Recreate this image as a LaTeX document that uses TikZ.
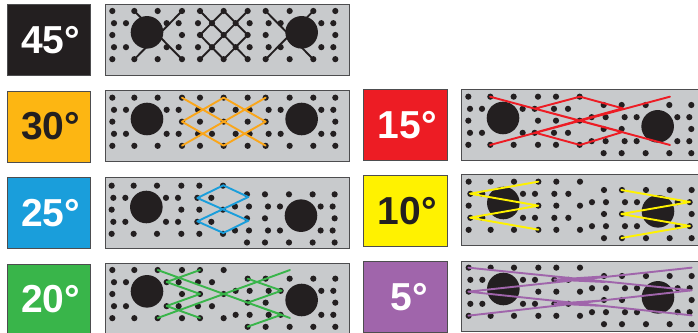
\documentclass[tikz,border=0pt]{standalone}
\usepackage{fontspec}
\setmainfont{Liberation Sans}
\definecolor{plategray}{HTML}{C8CACC}
\definecolor{ink}{HTML}{231F20}
\definecolor{edgeg}{HTML}{4D4D4F}
\definecolor{cora}{RGB}{253,182,18}
\definecolor{corl}{RGB}{250,166,26}
\definecolor{cblu}{RGB}{26,158,219}
\definecolor{cgrn}{RGB}{57,181,74}
\definecolor{cred}{RGB}{237,28,36}
\definecolor{cyel}{RGB}{255,242,0}
\definecolor{cpur}{RGB}{160,101,171}
\tikzset{
  plate/.style={fill=plategray,draw=edgeg,line width=0.8pt},
  hole/.style={circle,fill=ink,draw=none,inner sep=0pt,minimum size=32.6pt},
  pin/.style={fill=ink,draw=none},
  lab/.style={draw=edgeg,line width=0.7pt,inner sep=0pt,minimum width=83.3pt,minimum height=71pt,anchor=north west,font=\bfseries\fontsize{39}{39}\selectfont},
  lace/.style={line width=1.9pt,line join=round,line cap=round},
}
% #1 crop x, #2 crop y, #3 dx, #4 dy, #5 right-hand drop (last three in 3x units)
\newcommand\pinset[5]{%
  \begin{scope}[shift={(#1,#2)},x=0.3333pt,y=-0.3333pt]
    \foreach \r/\X in {0/{37,103,173,246,300,371},36.5/{42,78,200,236,294,336},72/{37,246,300,371},108.5/{42,78,200,236,294,336},144.5/{37,103,173,246,300,371}}{
      \foreach \c in \X {\fill[pin] (\c+#3,33+\r+#4) circle (3.1pt);}}
    \foreach \r/\X in {0/{443,497,569,640,706},36.5/{407,449,506,542,664,700},72/{443,497,706},108.5/{407,449,506,542,664,700},144.5/{443,497,569,640,706}}{
      \foreach \c in \X {\fill[pin] (\c+#3,33+\r+#4+#5) circle (3.1pt);}}
    \node[hole] at (141+#3,97+#4) {};
    \node[hole] at (605+#3,97+#4+#5) {};
  \end{scope}}
\newenvironment{crop}[2]{\begin{scope}[shift={(#1,#2)},x=0.3333pt,y=-0.3333pt]}{\end{scope}}
\newcommand\lbl[1]{\hspace*{4pt}#1}
\begin{document}
\begin{tikzpicture}[x=1pt,y=-1pt]
\useasboundingbox (0,0) rectangle (698,332);
\clip (0,0) rectangle (698,332);
% labels
\node[lab,fill=ink,text=white] (l45) at (6.7,4.3) {\lbl{45°}};
\node[lab,fill=cora,text=ink] (l30) at (6.7,90.7) {\lbl{30°}};
\node[lab,fill=cblu,text=white] (l25) at (6.7,177.3) {\lbl{25°}};
\node[lab,fill=cgrn,text=white] (l20) at (6.7,263.7) {\lbl{20°}};
\node[lab,fill=cred,text=white] (l15) at (363.3,89.3) {\lbl{15°}};
\node[lab,fill=cyel,text=ink] (l10) at (363.3,175) {\lbl{10°}};
\node[lab,fill=cpur,text=white] (l5) at (363.3,261) {\hspace*{8.6pt}5°};
% plates
\draw[plate] (105,4.5) rectangle (349,75);
\draw[plate] (105,90.7) rectangle (349,161.3);
\draw[plate] (105,177.3) rectangle (349,248.3);
\draw[plate] (105,263.7) rectangle (349,340);
\draw[plate] (461.7,89.3) rectangle (720,160);
\draw[plate] (461.7,174.7) rectangle (720,245);
\draw[plate] (461.7,261) rectangle (720,331.3);
% pins
\pinset{100}{0}{0}{0}{0}
\pinset{100}{85}{0}{5}{0}
\pinset{100}{172}{-2}{8}{26}
\pinset{100}{252}{0}{21}{26}
\pinset{455}{85}{3}{2}{25}
\pinset{455}{170}{4}{2}{25}
\pinset{455}{252}{4}{14}{25}
% 45
\begin{crop}{100}{0}
 \draw[lace,ink] (246,33)--(103,178) (103,33)--(246,178)
   (300,33)--(443,178) (443,33)--(300,178) (371,33)--(443,105)--(371,178)--(300,105)--cycle
   (497,33)--(640,178) (640,33)--(497,178);
\end{crop}
% 30
\begin{crop}{100}{85}
 \draw[lace,corl] (246,38)--(497,182) (497,38)--(246,182)
   (371,38)--(497,110)--(371,182)--(246,110)--cycle;
\end{crop}
% 25
\begin{crop}{100}{172}
 \draw[lace,cblu] (370,40)--(445,75)--(292,148)--(370,183)--(445,146)--(292,78)--cycle;
\end{crop}
% 20
\begin{crop}{100}{252}
 \draw[lace,cgrn] (173,54)--(570,198) (570,54)--(173,198)
   (300,54)--(200,90)--(300,126)--(200,162)--(300,198)
   (443,80)--(545,116)--(443,152)--(545,188)--(443,224);
\end{crop}
% 15
\begin{crop}{455}{85}
 \draw[lace,cred] (105,35)--(645,180) (645,35)--(105,180)
   (240,71)--(375,35)--(503,70)--(240,143)--(375,180)--(503,141)--cycle;
\end{crop}
% 10
\begin{crop}{455}{170}
 \draw[lace,cyel] (250,35)--(45,71)--(250,107)--(45,143)--(250,179)
   (499,60)--(705,96)--(499,132)--(705,168)--(499,204);
\end{crop}
% 5
\begin{crop}{455}{252}
 \draw[lace,cpur] (40,47)--(710,115) (40,119)--(710,47)
   (40,119)--(710,190) (40,191)--(710,115)
   (298,83)--(450,73) (298,83)--(450,90) (298,155)--(450,145) (298,155)--(450,162);
\end{crop}
\end{tikzpicture}
\end{document}
